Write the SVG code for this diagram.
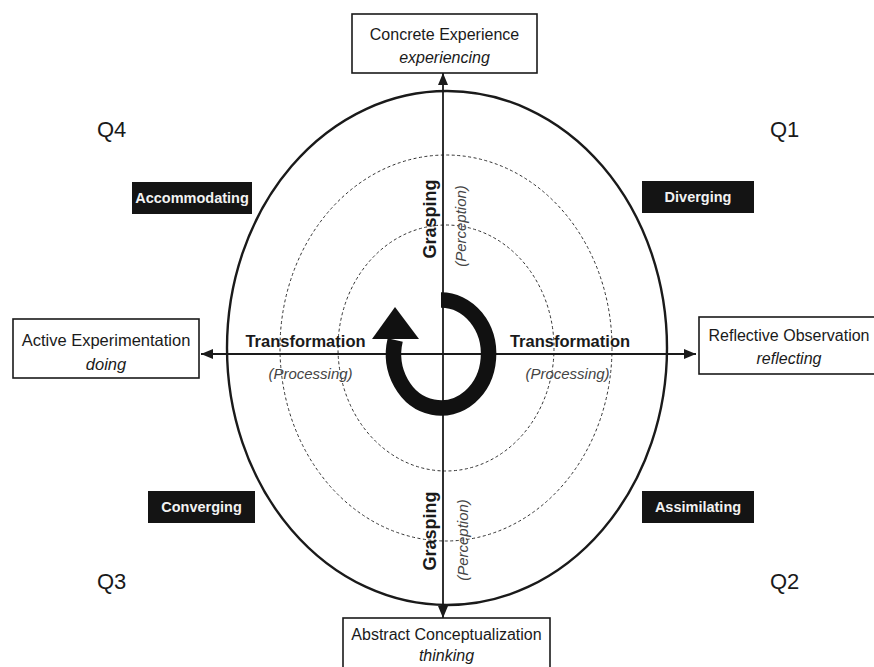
<svg xmlns="http://www.w3.org/2000/svg" width="874" height="667" viewBox="0 0 874 667">
<style>
.t{font-family:"Liberation Sans",Arial,sans-serif;fill:#1a1a1a}
.box{fill:#fff;stroke:#1a1a1a;stroke-width:1.6}
.blk{fill:#141414}
.wt{font-family:"Liberation Sans",Arial,sans-serif;fill:#f2f2f2;font-size:14.5px;font-weight:bold;text-anchor:middle}
.dash{fill:none;stroke:#333;stroke-width:1;stroke-dasharray:3 2.5}
.ax{stroke:#1a1a1a;stroke-width:1.8;fill:none}
.gray{fill:#444;font-style:italic;font-size:15px}
</style>
<defs>
<marker id="ah" viewBox="0 0 12 10" refX="12" refY="5" markerWidth="12" markerHeight="10" markerUnits="userSpaceOnUse" orient="auto">
<path d="M0,0 L12,5 L0,10 z" fill="#1a1a1a"/>
</marker>
</defs>
<rect width="874" height="667" fill="#fff"/>
<g id="rings">
<ellipse cx="447" cy="348" rx="220" ry="257" fill="none" stroke="#1a1a1a" stroke-width="2.4"/>
<ellipse class="dash" cx="446" cy="348" rx="166" ry="193"/>
<ellipse class="dash" cx="446" cy="348" rx="108" ry="123"/>
</g>
<g id="connectors">
<line class="ax" x1="443" y1="354" x2="443" y2="73" marker-end="url(#ah)"/>
<line class="ax" x1="443" y1="354" x2="443" y2="618" marker-end="url(#ah)"/>
<line class="ax" x1="443" y1="354" x2="201" y2="354" marker-end="url(#ah)"/>
<line class="ax" x1="443" y1="354" x2="696" y2="354" marker-end="url(#ah)"/>
</g>
<g id="cycle">
<path d="M441 300 A47.5 54 0 1 1 395.2 340" fill="none" stroke="#111" stroke-width="15.5"/>
<polygon points="372,339 419,339 395,307" fill="#111"/>
</g>
<g id="concrete">
<rect class="box" x="352" y="14" width="185" height="59"/>
<text class="t" x="444.5" y="40" font-size="16" text-anchor="middle">Concrete Experience</text>
<text class="t" x="444.5" y="63" font-size="16" font-style="italic" text-anchor="middle">experiencing</text>
</g>
<g id="abstract">
<rect class="box" x="343" y="618" width="207" height="60"/>
<text class="t" x="446.5" y="640" font-size="16" text-anchor="middle">Abstract Conceptualization</text>
<text class="t" x="446.5" y="661" font-size="16" font-style="italic" text-anchor="middle">thinking</text>
</g>
<g id="active">
<rect class="box" x="13" y="319" width="186" height="59"/>
<text class="t" x="106" y="346" font-size="16.5" text-anchor="middle">Active Experimentation</text>
<text class="t" x="106" y="370" font-size="16.5" font-style="italic" text-anchor="middle">doing</text>
</g>
<g id="reflective">
<rect class="box" x="699" y="317" width="180" height="57"/>
<text class="t" x="789" y="341" font-size="16" text-anchor="middle">Reflective Observation</text>
<text class="t" x="789" y="364" font-size="16" font-style="italic" text-anchor="middle">reflecting</text>
</g>
<g id="quadrants">
<text class="t" x="97" y="137" font-size="22">Q4</text>
<text class="t" x="770" y="137" font-size="22">Q1</text>
<text class="t" x="97" y="589" font-size="22">Q3</text>
<text class="t" x="770" y="589" font-size="22">Q2</text>
</g>
<g id="accommodating">
<rect class="blk" x="132" y="182" width="120" height="32"/>
<text class="wt" x="192" y="203">Accommodating</text>
</g>
<g id="diverging">
<rect class="blk" x="642" y="181" width="112" height="32"/>
<text class="wt" x="698" y="202">Diverging</text>
</g>
<g id="converging">
<rect class="blk" x="148" y="491" width="107" height="32"/>
<text class="wt" x="201.5" y="512">Converging</text>
</g>
<g id="assimilating">
<rect class="blk" x="642" y="491" width="112" height="32"/>
<text class="wt" x="698" y="512">Assimilating</text>
</g>
<g id="axis-labels">
<text class="t" x="305.5" y="347" font-size="16.5" font-weight="bold" text-anchor="middle">Transformation</text>
<text class="t gray" x="310.5" y="379" text-anchor="middle">(Processing)</text>
<text class="t" x="570" y="347" font-size="16.5" font-weight="bold" text-anchor="middle">Transformation</text>
<text class="t gray" x="567.5" y="379" text-anchor="middle">(Processing)</text>
<text class="t" transform="translate(436,219) rotate(-90)" font-size="18" font-weight="bold" text-anchor="middle">Grasping</text>
<text class="t gray" transform="translate(466,226) rotate(-90)" font-size="17" text-anchor="middle">(Perception)</text>
<text class="t" transform="translate(436,531) rotate(-90)" font-size="18" font-weight="bold" text-anchor="middle">Grasping</text>
<text class="t gray" transform="translate(468,540) rotate(-90)" font-size="17" text-anchor="middle">(Perception)</text>
</g>
</svg>
